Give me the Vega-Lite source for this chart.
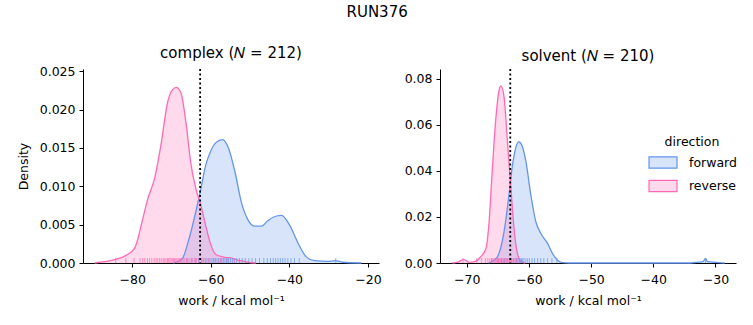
{
  "$schema": "https://vega.github.io/schema/vega-lite/v6.json",
  "padding": {"left": 17, "top": 5, "right": 5, "bottom": 5},
  "title": {"text": "RUN376", "fontSize": 15, "fontWeight": "normal", "anchor": "middle", "offset": 26, "color": "#000"},
  "config": {
    "font": "DejaVu Sans",
    "view": {"stroke": null},
    "axis": {"domainColor": "#000", "tickColor": "#000", "labelColor": "#000", "titleColor": "#000", "labelFontSize": 12.5, "titleFontSize": 12.5, "titleFontWeight": "normal", "tickSize": 4, "labelPadding": 4, "grid": false, "domainWidth": 1, "tickWidth": 1, "labelOverlap": false},
    "axisX": {"labelPadding": 6, "titlePadding": 9},
    "title": {"fontSize": 15, "fontWeight": "normal", "color": "#000", "offset": 4}
  },
  "datasets": {
    "curves": [
      {"panel": "complex", "direction": "forward", "work": -69.5, "density": 0},
      {"panel": "complex", "direction": "forward", "work": -68.4, "density": 0.0002},
      {"panel": "complex", "direction": "forward", "work": -67.2, "density": 0.0006},
      {"panel": "complex", "direction": "forward", "work": -65.5, "density": 0.0032},
      {"panel": "complex", "direction": "forward", "work": -63.8, "density": 0.0067},
      {"panel": "complex", "direction": "forward", "work": -62.5, "density": 0.0097},
      {"panel": "complex", "direction": "forward", "work": -61.3, "density": 0.0127},
      {"panel": "complex", "direction": "forward", "work": -60.0, "density": 0.0146},
      {"panel": "complex", "direction": "forward", "work": -58.7, "density": 0.0157},
      {"panel": "complex", "direction": "forward", "work": -57.0, "density": 0.0161},
      {"panel": "complex", "direction": "forward", "work": -55.5, "density": 0.0150},
      {"panel": "complex", "direction": "forward", "work": -53.8, "density": 0.0118},
      {"panel": "complex", "direction": "forward", "work": -52.2, "density": 0.0079},
      {"panel": "complex", "direction": "forward", "work": -50.5, "density": 0.0056},
      {"panel": "complex", "direction": "forward", "work": -48.8, "density": 0.0048},
      {"panel": "complex", "direction": "forward", "work": -47.1, "density": 0.0048},
      {"panel": "complex", "direction": "forward", "work": -45.5, "density": 0.0055},
      {"panel": "complex", "direction": "forward", "work": -44.0, "density": 0.0060},
      {"panel": "complex", "direction": "forward", "work": -42.0, "density": 0.0062},
      {"panel": "complex", "direction": "forward", "work": -39.9, "density": 0.0049},
      {"panel": "complex", "direction": "forward", "work": -37.8, "density": 0.0026},
      {"panel": "complex", "direction": "forward", "work": -35.7, "density": 0.0008},
      {"panel": "complex", "direction": "forward", "work": -33.6, "density": 0.0003},
      {"panel": "complex", "direction": "forward", "work": -30.2, "density": 0.0002},
      {"panel": "complex", "direction": "forward", "work": -28.3, "density": 0.0003},
      {"panel": "complex", "direction": "forward", "work": -26.5, "density": 0.0001},
      {"panel": "complex", "direction": "forward", "work": -21.7, "density": 0},
      {"panel": "complex", "direction": "reverse", "work": -89.5, "density": 0},
      {"panel": "complex", "direction": "reverse", "work": -88.3, "density": 0.0001},
      {"panel": "complex", "direction": "reverse", "work": -86.5, "density": 0.0002},
      {"panel": "complex", "direction": "reverse", "work": -84.0, "density": 0.0005},
      {"panel": "complex", "direction": "reverse", "work": -81.5, "density": 0.001},
      {"panel": "complex", "direction": "reverse", "work": -79.4, "density": 0.0019},
      {"panel": "complex", "direction": "reverse", "work": -78.5, "density": 0.0032},
      {"panel": "complex", "direction": "reverse", "work": -77.7, "density": 0.0049},
      {"panel": "complex", "direction": "reverse", "work": -76.0, "density": 0.0084},
      {"panel": "complex", "direction": "reverse", "work": -74.3, "density": 0.0110},
      {"panel": "complex", "direction": "reverse", "work": -72.7, "density": 0.0153},
      {"panel": "complex", "direction": "reverse", "work": -71.0, "density": 0.0209},
      {"panel": "complex", "direction": "reverse", "work": -69.7, "density": 0.0226},
      {"panel": "complex", "direction": "reverse", "work": -68.8, "density": 0.0229},
      {"panel": "complex", "direction": "reverse", "work": -67.6, "density": 0.0222},
      {"panel": "complex", "direction": "reverse", "work": -66.3, "density": 0.0183},
      {"panel": "complex", "direction": "reverse", "work": -65.1, "density": 0.0131},
      {"panel": "complex", "direction": "reverse", "work": -63.8, "density": 0.0097},
      {"panel": "complex", "direction": "reverse", "work": -62.5, "density": 0.0075},
      {"panel": "complex", "direction": "reverse", "work": -61.3, "density": 0.0049},
      {"panel": "complex", "direction": "reverse", "work": -60.0, "density": 0.0024},
      {"panel": "complex", "direction": "reverse", "work": -58.7, "density": 0.0011},
      {"panel": "complex", "direction": "reverse", "work": -57.0, "density": 0.0008},
      {"panel": "complex", "direction": "reverse", "work": -54.5, "density": 0.0006},
      {"panel": "complex", "direction": "reverse", "work": -52.5, "density": 0.0003},
      {"panel": "complex", "direction": "reverse", "work": -50.5, "density": 0.0001},
      {"panel": "complex", "direction": "reverse", "work": -48.5, "density": 0},
      {"panel": "solvent", "direction": "forward", "work": -66.5, "density": 0},
      {"panel": "solvent", "direction": "forward", "work": -65.1, "density": 0.0026},
      {"panel": "solvent", "direction": "forward", "work": -64.0, "density": 0.0136},
      {"panel": "solvent", "direction": "forward", "work": -63.2, "density": 0.0297},
      {"panel": "solvent", "direction": "forward", "work": -62.7, "density": 0.0414},
      {"panel": "solvent", "direction": "forward", "work": -62.1, "density": 0.0502},
      {"panel": "solvent", "direction": "forward", "work": -61.6, "density": 0.0526},
      {"panel": "solvent", "direction": "forward", "work": -61.1, "density": 0.0509},
      {"panel": "solvent", "direction": "forward", "work": -60.5, "density": 0.0443},
      {"panel": "solvent", "direction": "forward", "work": -59.7, "density": 0.0297},
      {"panel": "solvent", "direction": "forward", "work": -58.9, "density": 0.0180},
      {"panel": "solvent", "direction": "forward", "work": -58.1, "density": 0.0129},
      {"panel": "solvent", "direction": "forward", "work": -57.0, "density": 0.0085},
      {"panel": "solvent", "direction": "forward", "work": -56.2, "density": 0.0041},
      {"panel": "solvent", "direction": "forward", "work": -55.4, "density": 0.0012},
      {"panel": "solvent", "direction": "forward", "work": -54.6, "density": 0.0002},
      {"panel": "solvent", "direction": "forward", "work": -53.5, "density": 0},
      {"panel": "solvent", "direction": "forward", "work": -34.5, "density": 0},
      {"panel": "solvent", "direction": "forward", "work": -33.0, "density": 0.0003},
      {"panel": "solvent", "direction": "forward", "work": -32.0, "density": 0.0006},
      {"panel": "solvent", "direction": "forward", "work": -31.6, "density": 0.0020},
      {"panel": "solvent", "direction": "forward", "work": -31.3, "density": 0.0006},
      {"panel": "solvent", "direction": "forward", "work": -30.0, "density": 0.0003},
      {"panel": "solvent", "direction": "forward", "work": -28.5, "density": 0},
      {"panel": "solvent", "direction": "reverse", "work": -72.3, "density": 0},
      {"panel": "solvent", "direction": "reverse", "work": -71.4, "density": 0.0004},
      {"panel": "solvent", "direction": "reverse", "work": -70.5, "density": 0.0016},
      {"panel": "solvent", "direction": "reverse", "work": -69.6, "density": 0.0003},
      {"panel": "solvent", "direction": "reverse", "work": -68.6, "density": 0.0007},
      {"panel": "solvent", "direction": "reverse", "work": -67.8, "density": 0.0026},
      {"panel": "solvent", "direction": "reverse", "work": -66.9, "density": 0.0063},
      {"panel": "solvent", "direction": "reverse", "work": -66.4, "density": 0.0180},
      {"panel": "solvent", "direction": "reverse", "work": -65.9, "density": 0.0400},
      {"panel": "solvent", "direction": "reverse", "work": -65.3, "density": 0.0633},
      {"panel": "solvent", "direction": "reverse", "work": -64.8, "density": 0.0750},
      {"panel": "solvent", "direction": "reverse", "work": -64.5, "density": 0.0769},
      {"panel": "solvent", "direction": "reverse", "work": -64.0, "density": 0.0721},
      {"panel": "solvent", "direction": "reverse", "work": -63.5, "density": 0.0545},
      {"panel": "solvent", "direction": "reverse", "work": -62.9, "density": 0.0326},
      {"panel": "solvent", "direction": "reverse", "work": -62.4, "density": 0.0151},
      {"panel": "solvent", "direction": "reverse", "work": -61.9, "density": 0.0048},
      {"panel": "solvent", "direction": "reverse", "work": -61.3, "density": 0.0007},
      {"panel": "solvent", "direction": "reverse", "work": -60.6, "density": 0}
    ],
    "rugs": [
      {"panel": "complex", "direction": "forward", "work": -66.0},
      {"panel": "complex", "direction": "forward", "work": -64.8},
      {"panel": "complex", "direction": "forward", "work": -63.9},
      {"panel": "complex", "direction": "forward", "work": -63.1},
      {"panel": "complex", "direction": "forward", "work": -62.4},
      {"panel": "complex", "direction": "forward", "work": -61.8},
      {"panel": "complex", "direction": "forward", "work": -61.2},
      {"panel": "complex", "direction": "forward", "work": -60.7},
      {"panel": "complex", "direction": "forward", "work": -60.2},
      {"panel": "complex", "direction": "forward", "work": -59.7},
      {"panel": "complex", "direction": "forward", "work": -59.2},
      {"panel": "complex", "direction": "forward", "work": -58.8},
      {"panel": "complex", "direction": "forward", "work": -58.4},
      {"panel": "complex", "direction": "forward", "work": -58.0},
      {"panel": "complex", "direction": "forward", "work": -57.6},
      {"panel": "complex", "direction": "forward", "work": -57.2},
      {"panel": "complex", "direction": "forward", "work": -56.8},
      {"panel": "complex", "direction": "forward", "work": -56.4},
      {"panel": "complex", "direction": "forward", "work": -56.0},
      {"panel": "complex", "direction": "forward", "work": -55.5},
      {"panel": "complex", "direction": "forward", "work": -55.0},
      {"panel": "complex", "direction": "forward", "work": -54.5},
      {"panel": "complex", "direction": "forward", "work": -54.0},
      {"panel": "complex", "direction": "forward", "work": -53.4},
      {"panel": "complex", "direction": "forward", "work": -52.7},
      {"panel": "complex", "direction": "forward", "work": -52.0},
      {"panel": "complex", "direction": "forward", "work": -51.2},
      {"panel": "complex", "direction": "forward", "work": -50.3},
      {"panel": "complex", "direction": "forward", "work": -49.5},
      {"panel": "complex", "direction": "forward", "work": -48.6},
      {"panel": "complex", "direction": "forward", "work": -47.6},
      {"panel": "complex", "direction": "forward", "work": -46.5},
      {"panel": "complex", "direction": "forward", "work": -45.6},
      {"panel": "complex", "direction": "forward", "work": -44.8},
      {"panel": "complex", "direction": "forward", "work": -44.1},
      {"panel": "complex", "direction": "forward", "work": -43.5},
      {"panel": "complex", "direction": "forward", "work": -42.9},
      {"panel": "complex", "direction": "forward", "work": -42.3},
      {"panel": "complex", "direction": "forward", "work": -41.7},
      {"panel": "complex", "direction": "forward", "work": -41.1},
      {"panel": "complex", "direction": "forward", "work": -40.4},
      {"panel": "complex", "direction": "forward", "work": -39.6},
      {"panel": "complex", "direction": "forward", "work": -38.7},
      {"panel": "complex", "direction": "forward", "work": -37.5},
      {"panel": "complex", "direction": "forward", "work": -28.2},
      {"panel": "complex", "direction": "reverse", "work": -84.2},
      {"panel": "complex", "direction": "reverse", "work": -81.6},
      {"panel": "complex", "direction": "reverse", "work": -79.5},
      {"panel": "complex", "direction": "reverse", "work": -78.0},
      {"panel": "complex", "direction": "reverse", "work": -77.3},
      {"panel": "complex", "direction": "reverse", "work": -76.8},
      {"panel": "complex", "direction": "reverse", "work": -76.1},
      {"panel": "complex", "direction": "reverse", "work": -75.6},
      {"panel": "complex", "direction": "reverse", "work": -75.0},
      {"panel": "complex", "direction": "reverse", "work": -74.4},
      {"panel": "complex", "direction": "reverse", "work": -73.9},
      {"panel": "complex", "direction": "reverse", "work": -73.5},
      {"panel": "complex", "direction": "reverse", "work": -73.0},
      {"panel": "complex", "direction": "reverse", "work": -72.6},
      {"panel": "complex", "direction": "reverse", "work": -72.1},
      {"panel": "complex", "direction": "reverse", "work": -71.8},
      {"panel": "complex", "direction": "reverse", "work": -71.4},
      {"panel": "complex", "direction": "reverse", "work": -71.0},
      {"panel": "complex", "direction": "reverse", "work": -70.7},
      {"panel": "complex", "direction": "reverse", "work": -70.4},
      {"panel": "complex", "direction": "reverse", "work": -70.1},
      {"panel": "complex", "direction": "reverse", "work": -69.8},
      {"panel": "complex", "direction": "reverse", "work": -69.5},
      {"panel": "complex", "direction": "reverse", "work": -69.2},
      {"panel": "complex", "direction": "reverse", "work": -68.9},
      {"panel": "complex", "direction": "reverse", "work": -68.6},
      {"panel": "complex", "direction": "reverse", "work": -68.3},
      {"panel": "complex", "direction": "reverse", "work": -68.0},
      {"panel": "complex", "direction": "reverse", "work": -67.7},
      {"panel": "complex", "direction": "reverse", "work": -67.4},
      {"panel": "complex", "direction": "reverse", "work": -67.0},
      {"panel": "complex", "direction": "reverse", "work": -66.6},
      {"panel": "complex", "direction": "reverse", "work": -66.2},
      {"panel": "complex", "direction": "reverse", "work": -65.8},
      {"panel": "complex", "direction": "reverse", "work": -65.3},
      {"panel": "complex", "direction": "reverse", "work": -64.8},
      {"panel": "complex", "direction": "reverse", "work": -64.2},
      {"panel": "complex", "direction": "reverse", "work": -63.6},
      {"panel": "complex", "direction": "reverse", "work": -63.0},
      {"panel": "complex", "direction": "reverse", "work": -62.2},
      {"panel": "complex", "direction": "reverse", "work": -61.4},
      {"panel": "complex", "direction": "reverse", "work": -60.5},
      {"panel": "complex", "direction": "reverse", "work": -59.3},
      {"panel": "complex", "direction": "reverse", "work": -57.5},
      {"panel": "complex", "direction": "reverse", "work": -55.8},
      {"panel": "complex", "direction": "reverse", "work": -54.0},
      {"panel": "solvent", "direction": "forward", "work": -66.0},
      {"panel": "solvent", "direction": "forward", "work": -65.0},
      {"panel": "solvent", "direction": "forward", "work": -64.4},
      {"panel": "solvent", "direction": "forward", "work": -63.9},
      {"panel": "solvent", "direction": "forward", "work": -63.5},
      {"panel": "solvent", "direction": "forward", "work": -63.1},
      {"panel": "solvent", "direction": "forward", "work": -62.8},
      {"panel": "solvent", "direction": "forward", "work": -62.5},
      {"panel": "solvent", "direction": "forward", "work": -62.2},
      {"panel": "solvent", "direction": "forward", "work": -62.0},
      {"panel": "solvent", "direction": "forward", "work": -61.8},
      {"panel": "solvent", "direction": "forward", "work": -61.6},
      {"panel": "solvent", "direction": "forward", "work": -61.4},
      {"panel": "solvent", "direction": "forward", "work": -61.2},
      {"panel": "solvent", "direction": "forward", "work": -61.0},
      {"panel": "solvent", "direction": "forward", "work": -60.8},
      {"panel": "solvent", "direction": "forward", "work": -60.5},
      {"panel": "solvent", "direction": "forward", "work": -60.2},
      {"panel": "solvent", "direction": "forward", "work": -59.9},
      {"panel": "solvent", "direction": "forward", "work": -59.5},
      {"panel": "solvent", "direction": "forward", "work": -59.1},
      {"panel": "solvent", "direction": "forward", "work": -58.6},
      {"panel": "solvent", "direction": "forward", "work": -58.1},
      {"panel": "solvent", "direction": "forward", "work": -57.6},
      {"panel": "solvent", "direction": "forward", "work": -57.0},
      {"panel": "solvent", "direction": "forward", "work": -56.3},
      {"panel": "solvent", "direction": "forward", "work": -55.5},
      {"panel": "solvent", "direction": "forward", "work": -31.6},
      {"panel": "solvent", "direction": "reverse", "work": -70.6},
      {"panel": "solvent", "direction": "reverse", "work": -68.4},
      {"panel": "solvent", "direction": "reverse", "work": -67.6},
      {"panel": "solvent", "direction": "reverse", "work": -67.0},
      {"panel": "solvent", "direction": "reverse", "work": -66.6},
      {"panel": "solvent", "direction": "reverse", "work": -66.3},
      {"panel": "solvent", "direction": "reverse", "work": -66.0},
      {"panel": "solvent", "direction": "reverse", "work": -65.8},
      {"panel": "solvent", "direction": "reverse", "work": -65.6},
      {"panel": "solvent", "direction": "reverse", "work": -65.4},
      {"panel": "solvent", "direction": "reverse", "work": -65.2},
      {"panel": "solvent", "direction": "reverse", "work": -65.0},
      {"panel": "solvent", "direction": "reverse", "work": -64.9},
      {"panel": "solvent", "direction": "reverse", "work": -64.7},
      {"panel": "solvent", "direction": "reverse", "work": -64.6},
      {"panel": "solvent", "direction": "reverse", "work": -64.4},
      {"panel": "solvent", "direction": "reverse", "work": -64.3},
      {"panel": "solvent", "direction": "reverse", "work": -64.1},
      {"panel": "solvent", "direction": "reverse", "work": -64.0},
      {"panel": "solvent", "direction": "reverse", "work": -63.8},
      {"panel": "solvent", "direction": "reverse", "work": -63.6},
      {"panel": "solvent", "direction": "reverse", "work": -63.4},
      {"panel": "solvent", "direction": "reverse", "work": -63.2},
      {"panel": "solvent", "direction": "reverse", "work": -63.0},
      {"panel": "solvent", "direction": "reverse", "work": -62.7},
      {"panel": "solvent", "direction": "reverse", "work": -62.4},
      {"panel": "solvent", "direction": "reverse", "work": -62.0},
      {"panel": "solvent", "direction": "reverse", "work": -61.5}
    ],
    "vlines": [
      {"panel": "complex", "work": -62.7},
      {"panel": "solvent", "work": -63.0}
    ]
  },
  "hconcat": [
    {
      "width": 296, "height": 194,
      "title": "complex (𝑁 = 212)",
      "layer": [
        {
          "data": {"name": "curves"},
          "transform": [{"filter": "datum.panel === 'complex'"}],
          "mark": {"type": "area", "fillOpacity": 0.25, "interpolate": "monotone"},
          "encoding": {
            "x": {"field": "work", "type": "quantitative", "scale": {"domain": [-92.5, -17.2], "nice": false, "zero": false}, "axis": {"values": [-80, -60, -40, -20], "tickCount": 10, "format": "d", "title": "work / kcal mol⁻¹"}},
            "y": {"field": "density", "type": "quantitative", "stack": null, "scale": {"domain": [0, 0.0253], "nice": false}, "axis": {"values": [0, 0.005, 0.01, 0.015, 0.02, 0.025], "tickCount": 10, "format": ".3f", "title": "Density", "titlePadding": 9}},
            "color": {"field": "direction", "type": "nominal", "scale": {"domain": ["forward", "reverse"], "range": ["#6495ED", "#FF69B4"]},
              "legend": {"title": "direction", "orient": "none", "legendX": 565, "legendY": 67, "symbolType": "M-1,-0.79H3V0.79H-1Z", "symbolSize": 196, "labelOffset": 25, "rowPadding": 7.5, "titleAnchor": "middle", "titleFontSize": 12.5, "labelFontSize": 12.5, "titleFontWeight": "normal", "titleColor": "#000", "labelColor": "#000", "titlePadding": 6,
                "encode": {"symbols": {"update": {"fill": {"scale": "color", "field": "value"}, "fillOpacity": {"value": 0.25}, "stroke": {"scale": "color", "field": "value"}, "strokeWidth": {"value": 1.2}, "opacity": {"value": 1}}}}}}
          }
        },
        {
          "data": {"name": "curves"},
          "transform": [{"filter": "datum.panel === 'complex'"}],
          "mark": {"type": "line", "strokeWidth": 1.3, "interpolate": "monotone"},
          "encoding": {
            "x": {"field": "work", "type": "quantitative"},
            "y": {"field": "density", "type": "quantitative", "stack": null},
            "color": {"field": "direction", "type": "nominal"}
          }
        },
        {
          "data": {"name": "rugs"},
          "transform": [{"filter": "datum.panel === 'complex'"}],
          "mark": {"type": "rule", "strokeWidth": 1, "opacity": 0.7},
          "encoding": {
            "x": {"field": "work", "type": "quantitative"},
            "y": {"datum": 0},
            "y2": {"datum": 0.00065},
            "color": {"field": "direction", "type": "nominal"}
          }
        },
        {
          "data": {"name": "vlines"},
          "transform": [{"filter": "datum.panel === 'complex'"}],
          "mark": {"type": "rule", "color": "#000", "strokeWidth": 1.8, "strokeDash": [2, 2.5]},
          "encoding": {"x": {"field": "work", "type": "quantitative"}}
        }
      ]
    },
    {
      "width": 296, "height": 194,
      "title": "solvent (𝑁 = 210)",
      "layer": [
        {
          "data": {"name": "curves"},
          "transform": [{"filter": "datum.panel === 'solvent'"}],
          "mark": {"type": "area", "fillOpacity": 0.25, "interpolate": "monotone"},
          "encoding": {
            "x": {"field": "work", "type": "quantitative", "scale": {"domain": [-74.3, -26.7], "nice": false, "zero": false}, "axis": {"values": [-70, -60, -50, -40, -30], "tickCount": 10, "format": "d", "title": "work / kcal mol⁻¹"}},
            "y": {"field": "density", "type": "quantitative", "stack": null, "scale": {"domain": [0, 0.0842], "nice": false}, "axis": {"values": [0, 0.02, 0.04, 0.06, 0.08], "tickCount": 10, "format": ".2f", "title": null}},
            "color": {"field": "direction", "type": "nominal"}
          }
        },
        {
          "data": {"name": "curves"},
          "transform": [{"filter": "datum.panel === 'solvent'"}],
          "mark": {"type": "line", "strokeWidth": 1.3, "interpolate": "monotone"},
          "encoding": {
            "x": {"field": "work", "type": "quantitative"},
            "y": {"field": "density", "type": "quantitative", "stack": null},
            "color": {"field": "direction", "type": "nominal"}
          }
        },
        {
          "data": {"name": "rugs"},
          "transform": [{"filter": "datum.panel === 'solvent'"}],
          "mark": {"type": "rule", "strokeWidth": 1, "opacity": 0.7},
          "encoding": {
            "x": {"field": "work", "type": "quantitative"},
            "y": {"datum": 0},
            "y2": {"datum": 0.0021},
            "color": {"field": "direction", "type": "nominal"}
          }
        },
        {
          "data": {"name": "vlines"},
          "transform": [{"filter": "datum.panel === 'solvent'"}],
          "mark": {"type": "rule", "color": "#000", "strokeWidth": 1.8, "strokeDash": [2, 2.5]},
          "encoding": {"x": {"field": "work", "type": "quantitative"}}
        }
      ]
    }
  ],
  "spacing": 22
}
